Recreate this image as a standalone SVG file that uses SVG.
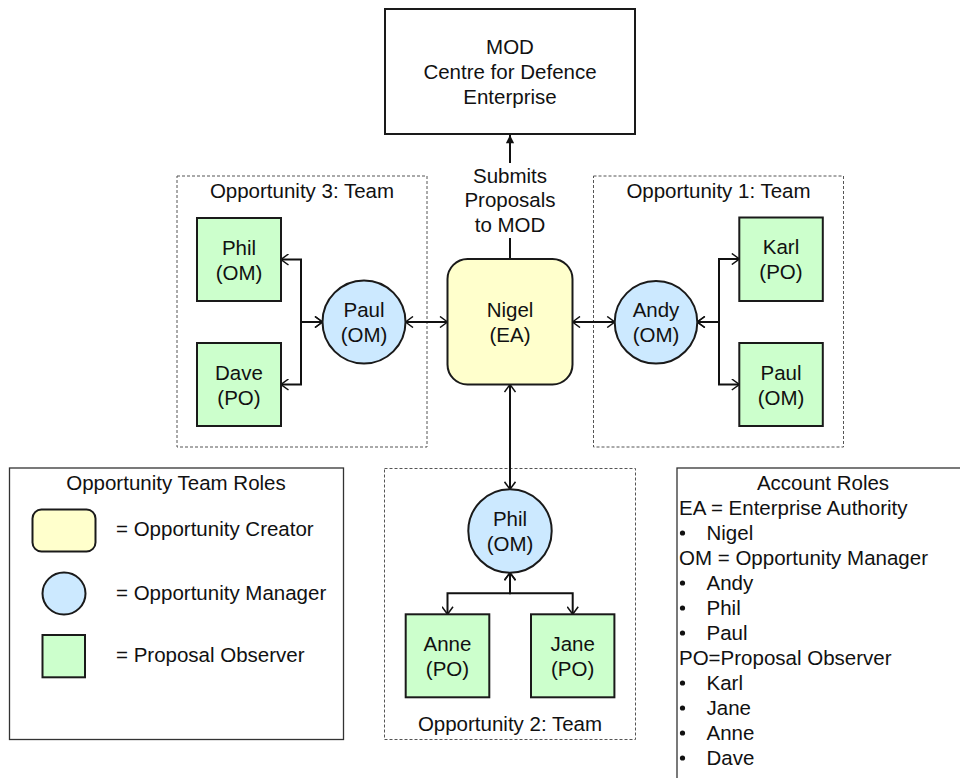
<svg xmlns="http://www.w3.org/2000/svg" width="960" height="778" viewBox="0 0 960 778">
<style>
text{font-family:"Liberation Sans",Arial,sans-serif;font-size:20.5px;fill:#111}
.c{text-anchor:middle}
.team{fill:none;stroke:#555;stroke-width:1;stroke-dasharray:3,2}
.po{fill:#ccffcc;stroke:#1a1a1a;stroke-width:2}
.om{fill:#cce9ff;stroke:#1a1a1a;stroke-width:2}
.ea{fill:#ffffcc;stroke:#1a1a1a;stroke-width:2}
.box{fill:#fff;stroke:#1a1a1a;stroke-width:2}
.leg{fill:#fff;stroke:#333;stroke-width:1.3}
.con{fill:none;stroke:#111;stroke-width:2}
.bi{marker-start:url(#open);marker-end:url(#open)}
</style>
<defs>
<marker id="open" viewBox="0 0 10 12" refX="9.5" refY="6" markerWidth="10" markerHeight="12" markerUnits="userSpaceOnUse" orient="auto-start-reverse">
<path d="M2,0.5 L9.5,6 L2,11.5" fill="none" stroke="#111" stroke-width="1.5"/>
</marker>
<marker id="solid" viewBox="0 0 10 12" refX="10" refY="5" markerWidth="12" markerHeight="10" markerUnits="userSpaceOnUse" orient="auto">
<path d="M0,0 L10,5 L0,10 Z" fill="#111"/>
</marker>
</defs>

<g id="team3"><rect class="team" x="177" y="176" width="250" height="271"/><text class="c" x="302" y="198">Opportunity 3: Team</text></g>
<g id="team1"><rect class="team" x="593.5" y="176" width="250" height="271"/><text class="c" x="718.5" y="198">Opportunity 1: Team</text></g>
<g id="team2"><rect class="team" x="384.5" y="468.5" width="251" height="271"/><text class="c" x="510" y="731">Opportunity 2: Team</text></g>

<g id="connectors">
<path class="con" d="M510,259 V238"/>
<path class="con" d="M510,163 V135" marker-end="url(#solid)"/>
<path class="con bi" d="M322.5,322 H301 V259.5 H281"/>
<path class="con bi" d="M322.5,322 H301 V384.5 H281"/>
<path class="con bi" d="M405.5,322 H447.5"/>
<path class="con bi" d="M572.5,322 H614.7"/>
<path class="con bi" d="M697.3,322 H719 V259 H739.3"/>
<path class="con bi" d="M697.3,322 H719 V384.5 H739.3"/>
<path class="con bi" d="M510,384.5 V489.3"/>
<path class="con bi" d="M510,572.7 V593.3 H447.5 V614.3"/>
<path class="con bi" d="M510,572.7 V593.3 H572.7 V614.3"/>
</g>

<g id="mod"><rect class="box" x="385" y="9" width="250" height="125"/>
<text class="c" x="510" y="53.5">MOD</text><text class="c" x="510" y="78.5">Centre for Defence</text><text class="c" x="510" y="103.5">Enterprise</text></g>
<g id="submits-label"><text class="c" x="510" y="183">Submits</text><text class="c" x="510" y="207">Proposals</text><text class="c" x="510" y="231.5">to MOD</text></g>

<g id="nigel"><rect class="ea" x="447.5" y="259" width="125" height="125.5" rx="20"/><text class="c" x="510" y="317">Nigel</text><text class="c" x="510" y="342">(EA)</text></g>

<g id="paul-om"><circle class="om" cx="364" cy="322" r="41.5"/><text class="c" x="364" y="317">Paul</text><text class="c" x="364" y="342">(OM)</text></g>
<g id="phil-om3"><rect class="po" x="197" y="218" width="84" height="83"/><text class="c" x="239" y="254.5">Phil</text><text class="c" x="239" y="279.5">(OM)</text></g>
<g id="dave"><rect class="po" x="197" y="343" width="84" height="83"/><text class="c" x="239" y="379.5">Dave</text><text class="c" x="239" y="404.5">(PO)</text></g>

<g id="andy"><circle class="om" cx="656" cy="322.3" r="41.3"/><text class="c" x="656" y="317">Andy</text><text class="c" x="656" y="342">(OM)</text></g>
<g id="karl"><rect class="po" x="739.3" y="217.5" width="83.5" height="83.5"/><text class="c" x="781" y="254">Karl</text><text class="c" x="781" y="279">(PO)</text></g>
<g id="paul-om1"><rect class="po" x="739.3" y="343" width="83.5" height="83"/><text class="c" x="781" y="379.5">Paul</text><text class="c" x="781" y="404.5">(OM)</text></g>

<g id="phil-om2"><circle class="om" cx="510" cy="531" r="41.7"/><text class="c" x="510" y="526">Phil</text><text class="c" x="510" y="551">(OM)</text></g>
<g id="anne"><rect class="po" x="405.7" y="614.3" width="83.6" height="83"/><text class="c" x="447.5" y="650.5">Anne</text><text class="c" x="447.5" y="675.5">(PO)</text></g>
<g id="jane"><rect class="po" x="531" y="614.3" width="83.4" height="83"/><text class="c" x="572.7" y="650.5">Jane</text><text class="c" x="572.7" y="675.5">(PO)</text></g>

<g id="legend">
<rect class="leg" x="9.5" y="468" width="334" height="271.5"/>
<text class="c" x="176" y="490">Opportunity Team Roles</text>
<rect class="ea" x="32.5" y="509.5" width="63" height="42" rx="9" stroke-width="1.6"/>
<text x="116" y="536">= Opportunity Creator</text>
<ellipse class="om" cx="64" cy="593.5" rx="21.5" ry="21" stroke-width="1.6"/>
<text x="116" y="599.5">= Opportunity Manager</text>
<rect class="po" x="42.5" y="635" width="42.5" height="42.3" stroke-width="1.6"/>
<text x="116" y="662">= Proposal Observer</text>
</g>

<g id="account-roles">
<rect class="leg" x="677" y="468" width="300" height="330"/>
<text class="c" x="823" y="490">Account Roles</text>
<text x="679" y="515">EA = Enterprise Authority</text>
<circle cx="682.5" cy="533" r="2.6" fill="#111"/><text x="706.5" y="540">Nigel</text>
<text x="679" y="565">OM = Opportunity Manager</text>
<circle cx="682.5" cy="583" r="2.6" fill="#111"/><text x="706.5" y="590">Andy</text>
<circle cx="682.5" cy="608" r="2.6" fill="#111"/><text x="706.5" y="615">Phil</text>
<circle cx="682.5" cy="633" r="2.6" fill="#111"/><text x="706.5" y="640">Paul</text>
<text x="679" y="665">PO=Proposal Observer</text>
<circle cx="682.5" cy="683" r="2.6" fill="#111"/><text x="706.5" y="690">Karl</text>
<circle cx="682.5" cy="708" r="2.6" fill="#111"/><text x="706.5" y="715">Jane</text>
<circle cx="682.5" cy="733" r="2.6" fill="#111"/><text x="706.5" y="740">Anne</text>
<circle cx="682.5" cy="758" r="2.6" fill="#111"/><text x="706.5" y="765">Dave</text>
</g>
</svg>
